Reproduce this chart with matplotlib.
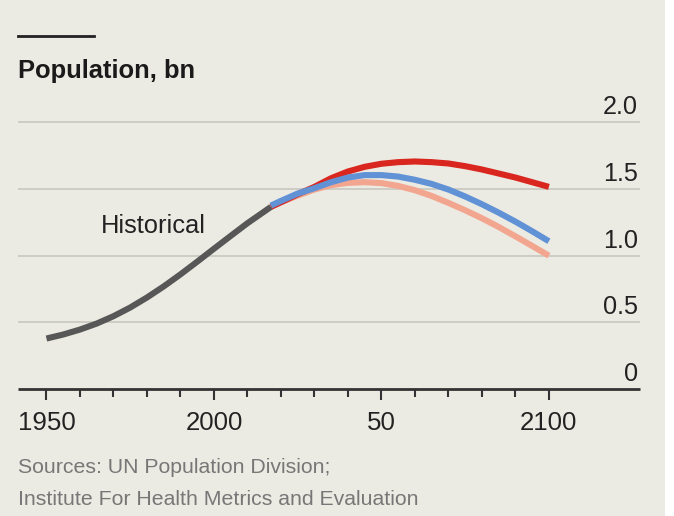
import matplotlib
matplotlib.use("Agg")
import matplotlib.pyplot as plt
from matplotlib import font_manager, transforms
from matplotlib.patches import Rectangle
from matplotlib.lines import Line2D

# ---------------- data ----------------
hist_years = [1950, 1955, 1960, 1965, 1970, 1975, 1980, 1985, 1990, 1995, 2000, 2005, 2010, 2015, 2017]
hist_vals = [0.38, 0.41, 0.447, 0.492, 0.547, 0.612, 0.687, 0.77, 0.86, 0.955, 1.052, 1.148, 1.243, 1.33, 1.365]

proj_years = [2017, 2020, 2025, 2030, 2035, 2040, 2045, 2050, 2055, 2060,
              2065, 2070, 2075, 2080, 2085, 2090, 2095, 2100]
red_vals = [1.365, 1.40, 1.46, 1.515, 1.58, 1.63, 1.665, 1.688, 1.70, 1.705,
            1.70, 1.69, 1.67, 1.645, 1.615, 1.585, 1.55, 1.515]
blue_vals = [1.375, 1.41, 1.465, 1.505, 1.55, 1.585, 1.603, 1.603, 1.592, 1.568,
             1.537, 1.495, 1.443, 1.385, 1.322, 1.255, 1.183, 1.108]
pink_vals = [1.37, 1.40, 1.45, 1.495, 1.528, 1.545, 1.55, 1.543, 1.522, 1.49,
             1.447, 1.395, 1.34, 1.28, 1.215, 1.145, 1.073, 1.00]

x_major = [1950, 2000, 2050, 2100]
x_major_labels = ["1950", "2000", "50", "2100"]
x_minor = list(range(1950, 2101, 10))
y_ticks = [0, 0.5, 1.0, 1.5, 2.0]
y_labels = ["0", "0.5", "1.0", "1.5", "2.0"]

title = "Population, bn"
source_lines = ["Sources: UN Population Division;", "Institute For Health Metrics and Evaluation"]
hist_label = "Historical"

# ---------------- fonts ----------------
names = {f.name for f in font_manager.fontManager.ttflist}
narrow = "Liberation Sans Narrow" if "Liberation Sans Narrow" in names else None
base = "Liberation Sans" if "Liberation Sans" in names else "DejaVu Sans"

# ---------------- colours ----------------
BG = "#ecebe3"
GRID = "#c8c7bf"
DARK = "#333333"
C_HIST = "#575757"
C_RED = "#d9261f"
C_BLUE = "#6192d6"
C_PINK = "#f2a68f"

W, H = 674, 516
fig = plt.figure(figsize=(W / 100, H / 100), dpi=100, facecolor=BG)
# white strip at right edge
fig.patches.append(Rectangle((665 / W, 0), 1, 1, transform=fig.transFigure,
                             facecolor="white", edgecolor="none", zorder=-1))

ax = fig.add_axes([18 / W, (H - 389.3) / H, 622 / W, (389.3 - 108.7) / H])
ax.set_facecolor("none")
ax.set_xlim(1941.5, 2127.2)
ax.set_ylim(0, 2.1)

for s in ["top", "left", "right"]:
    ax.spines[s].set_visible(False)
ax.spines["bottom"].set_color(DARK)
ax.spines["bottom"].set_linewidth(2.0)
ax.spines["bottom"].set_capstyle("butt")

# gridlines
for v in y_ticks[1:]:
    ax.axhline(v, color=GRID, lw=1.2, zorder=0)

# y labels
off = transforms.ScaledTranslation(0, 8 / 100, fig.dpi_scale_trans)
ytrans = transforms.blended_transform_factory(ax.transAxes, ax.transData) + off
for v, lab in zip(y_ticks, y_labels):
    ax.text(0.9968, v, lab, transform=ytrans, ha="right", va="baseline",
            fontsize=18.2, family=base, color="#222222")

# x ticks
ax.set_yticks([])
ax.set_xticks(x_major)
ax.set_xticklabels(x_major_labels, fontsize=18.6, family=base, color="#222222")
ax.set_xticks(x_minor, minor=True)
ax.tick_params(axis="x", which="major", direction="out", length=8.2, width=1.5,
               color=DARK, pad=7.5)
ax.tick_params(axis="x", which="minor", direction="out", length=5.8, width=1.5,
               color=DARK)

lw = 4.4
kw = dict(lw=lw, solid_capstyle="butt", solid_joinstyle="round")
ax.plot(proj_years, pink_vals, color=C_PINK, zorder=3, **kw)
ax.plot(proj_years, red_vals, color=C_RED, zorder=4, **kw)
ax.plot(proj_years, blue_vals, color=C_BLUE, zorder=5, **kw)
ax.plot(hist_years, hist_vals, color=C_HIST, zorder=6, **kw)

ax.text(1966.3, 1.172, hist_label, ha="left", va="baseline", fontsize=18.4,
        family=base, color="#222222")

# header
fig.add_artist(Line2D([18.3 / W, 94 / W], [(H - 36) / H, (H - 36) / H],
                      color="#222222", lw=2.0, transform=fig.transFigure))
if narrow:
    fig.text(18 / W, (H - 78.3) / H, title, ha="left", va="baseline",
             fontsize=20.8, family=narrow, weight="bold", color="#1a1a1a")
else:
    fig.text(18 / W, (H - 78.3) / H, title, ha="left", va="baseline",
             fontsize=18.4, family=base, weight="bold", color="#1a1a1a")

# sources
src_font = narrow if narrow else base
src_size = 17.8 if narrow else 15.3
for line, yb in zip(source_lines, [473.3, 505.0]):
    fig.text(18 / W, (H - yb) / H, line, ha="left", va="baseline",
             fontsize=src_size, family=src_font, color="#777777")

fig.savefig("out.png", dpi=100, facecolor=BG)
